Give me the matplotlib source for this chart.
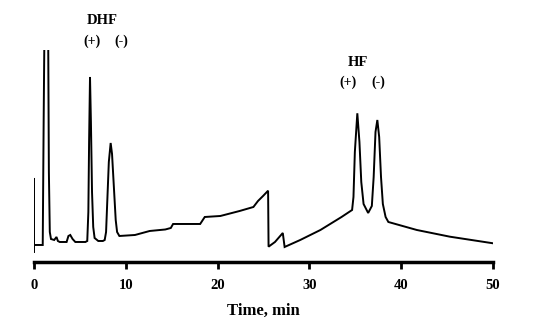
import matplotlib
matplotlib.use("Agg")
import matplotlib.pyplot as plt

# chromatogram trace (time in min, detector signal in arbitrary units)
time_min = [0.0, 0.0, 0.0, 0.95, 1.05, 1.12, 1.2, 1.5, 1.55, 1.62, 1.72, 1.85, 2.2,
            2.45, 2.6, 2.8, 3.2, 3.55, 3.75, 3.95, 4.2, 4.5, 5.0, 5.6, 5.8,
            5.92, 6.0, 6.1, 6.2, 6.32, 6.45, 6.6, 7.0, 7.5, 7.7, 7.85, 8.0,
            8.15, 8.35, 8.5, 8.7, 8.9, 9.05, 9.3, 11.0, 12.6, 14.3, 14.9, 15.15,
            18.1, 18.6, 20.3, 22.4, 23.9, 24.4, 24.95, 25.5, 25.55, 26.25, 27.1,
            27.3, 29.0, 31.2, 33.5, 34.65, 34.8, 34.95, 35.22, 35.45, 35.65, 35.9,
            36.4, 36.8, 37.0, 37.2, 37.4, 37.6, 37.8, 38.0, 38.3, 38.6, 41.7,
            45.3, 50.0]
signal = [10, 84, 17, 17, 140, 215, 240, 240, 215, 90, 30, 23, 22,
          25, 21, 20, 20, 20, 26, 27, 23, 20, 20, 20, 21,
          50, 120, 185, 140, 70, 35, 24, 21, 21, 22, 30, 65,
          100, 119, 108, 75, 42, 30, 26, 27, 31, 32.5, 34, 38,
          38, 45, 46, 51, 55, 61, 66, 71.3, 15.3, 20, 29,
          15, 22, 32, 45, 52, 65, 110, 148.7, 120, 80, 58,
          49, 56, 85, 130, 142, 125, 85, 58, 45, 40, 32,
          25.3, 18.7]

xticks = [0, 10, 20, 30, 40, 50]

plt.rcParams['font.family'] = ['Liberation Serif', 'DejaVu Serif']
plt.rcParams['font.weight'] = 'bold'

fig = plt.figure(figsize=(5.45, 3.31), dpi=100)
ax = fig.add_axes([0.0624, 0.2085, 0.8422, 0.6405])

ax.plot(time_min, signal, color='black', lw=1.4, solid_joinstyle='miter')

ax.set_xlim(0, 50)
ax.set_ylim(0, 212)
for s in ['left', 'top', 'right']:
    ax.spines[s].set_visible(False)
ax.spines['bottom'].set_linewidth(2.5)
ax.set_yticks([])
ax.set_xticks(xticks)
ax.tick_params(axis='x', direction='out', length=5, width=2, labelsize=10.5, pad=7)
for lb in ax.get_xticklabels():
    lb.set_fontweight('bold')
ax.set_xlabel('Time, min', fontsize=12, fontweight='bold', labelpad=8)

# peak labels
ax.text(7.4, 241, 'DHF', ha='center', va='center', fontsize=10.5, fontweight='bold', clip_on=False)
ax.text(6.3, 221, '(+)', ha='center', va='center', fontsize=10, fontweight='bold', clip_on=False)
ax.text(9.5, 221, '(-)', ha='center', va='center', fontsize=10, fontweight='bold', clip_on=False)
ax.text(35.3, 199, 'HF', ha='center', va='center', fontsize=10.5, fontweight='bold')
ax.text(34.2, 180, '(+)', ha='center', va='center', fontsize=10, fontweight='bold')
ax.text(37.5, 180, '(-)', ha='center', va='center', fontsize=10, fontweight='bold')

fig.savefig('out.png', dpi=100)
